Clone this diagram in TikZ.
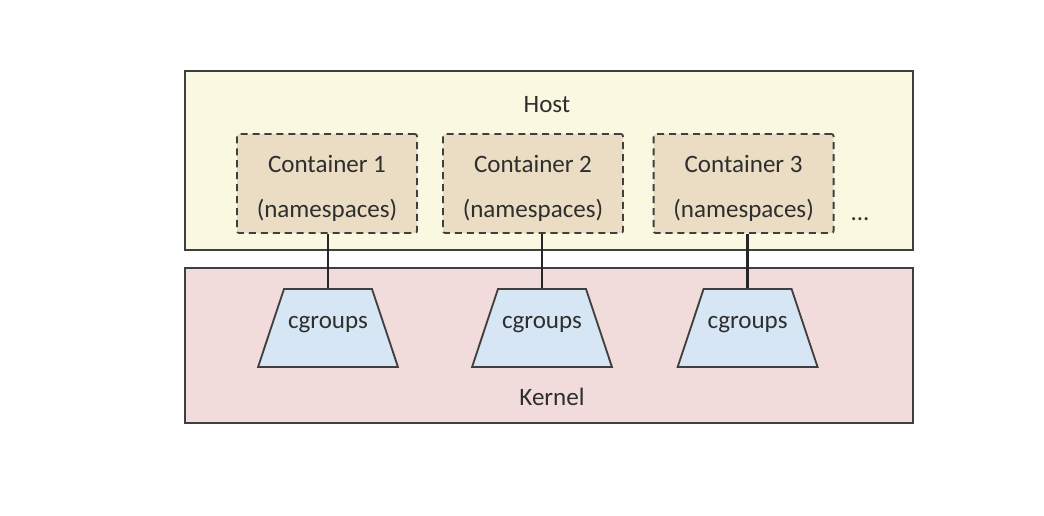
\documentclass[tikz,border=0pt]{standalone}
\usepackage{fontspec}
\setmainfont{Carlito}
\usepackage{xcolor}
\usepackage{tikz}
\usetikzlibrary{positioning}
\usetikzlibrary{shapes.geometric}

\definecolor{hostfill}{HTML}{FBF8E2}
\definecolor{boxfill}{HTML}{EBDDC3}
\definecolor{kernfill}{HTML}{F2DCDB}
\definecolor{cgfill}{HTML}{D6E6F5}
\definecolor{edgegray}{HTML}{3F3F3F}
\definecolor{txtgray}{HTML}{2E2E2E}

\tikzset{
	layer/.style={draw=edgegray,line width=1.4pt,minimum width=18.2cm,inner sep=0pt},
	ctbox/.style={draw=edgegray,fill=boxfill,line width=1.3pt,dash pattern=on 5pt off 3.5pt,
		rounded corners=1.5pt,minimum width=4.5cm,minimum height=2.475cm,align=center,
		font=\fontsize{17.8}{32.5}\selectfont,text=txtgray,text height=1.82cm},
	cgbox/.style={trapezium,trapezium angle=71.6,draw=edgegray,fill=cgfill,
		line width=1.3pt,text width=2.2cm,align=center,inner xsep=0pt,inner ysep=0.5cm,
		font=\fontsize{17.8}{21}\selectfont,text=txtgray,text height=0.5cm,text depth=0.45cm},
	lbl/.style={font=\fontsize{17.8}{21}\selectfont,text=txtgray},
	link/.style={draw=black!85,line width=1.9pt}
}

\begin{document}
\begin{tikzpicture}[transform shape,scale=1]
		\useasboundingbox (0,0) rectangle (26.1,12.875);
		% host and kernel layers
		\node[layer,fill=hostfill,minimum height=4.475cm] (host) at (13.725,8.8625) {};
		\node[layer,fill=kernfill,minimum height=3.875cm] (kernel) at (13.725,4.2375) {};
		\node[lbl] (hostname) at (13.675,10.25) {Host};
		\node[lbl] (kernelname) at (13.8,2.95) {Kernel};
		% containers
		\node[ctbox] (c1) at (8.175,8.2875) {Container 1\\(namespaces)};
		\node[ctbox] (c2) at (13.325,8.2875) {Container 2\\(namespaces)};
		\node[ctbox] (c3) at (18.59,8.2875) {Container 3\\(namespaces)};
		\node[lbl] (more) at (21.5,7.4) {...};
		% cgroups
		\node[cgbox] (g1) at (8.2,4.675) {cgroups};
		\node[cgbox] (g2) at (13.55,4.675) {cgroups};
		\node[cgbox] (g3) at (18.69,4.675) {cgroups};
		\draw[link] (g1.north |- c1.south) -- (g1.north);
		\draw[link] (g2.north |- c2.south) -- (g2.north);
		\draw[link] (g3.north |- c3.south) -- (g3.north);
	\end{tikzpicture}
\end{document}
